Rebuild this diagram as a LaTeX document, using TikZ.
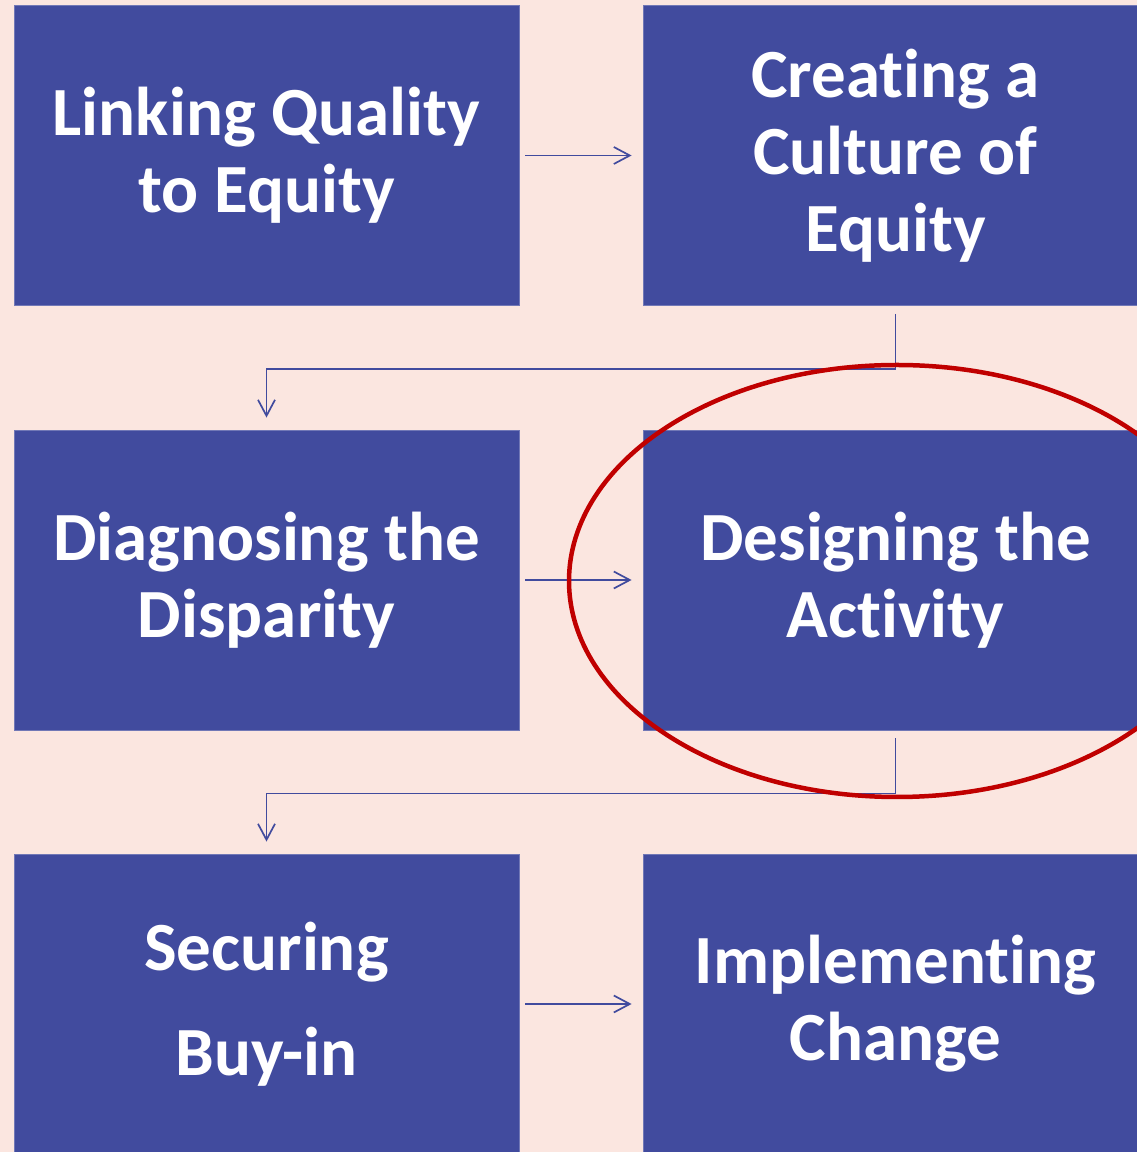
\documentclass[tikz,border=0pt]{standalone}
\usepackage{fontspec}
\setmainfont{Carlito}[Ligatures=NoCommon]
\usepackage{xcolor}
\usetikzlibrary{arrows.meta,positioning}
\definecolor{paper}{HTML}{FBE6E0}
\definecolor{boxblue}{HTML}{414B9E}
\definecolor{ringred}{HTML}{C00000}

\tikzset{
  stage/.style={fill=boxblue,draw=boxblue!75!white,line width=0.8pt,text=white,
    minimum width=505pt,minimum height=300pt,inner sep=0pt,align=center,
    font=\fontsize{69}{77}\selectfont\bfseries},
  flow/.style={boxblue,line width=1.7pt,-{Straight Barb[length=16pt,width=17pt]}},
  ring/.style={ringred,line width=4.5pt}
}

\begin{document}
\begin{tikzpicture}[x=1pt,y=1pt]
  \useasboundingbox (0,0) rectangle (1137,1152);
  \clip (0,0) rectangle (1137,1152);
  \fill[paper] (0,0) rectangle (1137,1152);

  % two columns of stages, three rows
  \node[stage] (link)    at (266.5,996.5) {Linking Quality\\to Equity};
  \node[stage] (culture) at (895.5,996.5) {Creating a\\Culture of\\Equity};
  \node[stage] (diag)    at (266.5,572)   {Diagnosing the\\Disparity};
  \node[stage] (design)  at (895.5,572)   {Designing the\\Activity};
  \node[stage] (buyin)   at (266.5,148)   {Securing\\[28pt]Buy-in};
  \node[stage] (change)  at (895.5,148)   {Implementing\\Change};

  % arrows along each row
  \draw[flow,shorten <=6pt,shorten >=11pt] (link) -- (culture);
  \draw[flow,shorten <=6pt,shorten >=11pt] (diag) -- (design);
  \draw[flow,shorten <=6pt,shorten >=11pt] (buyin) -- (change);

  % elbows down to the next row
  \draw[flow,shorten <=8pt,shorten >=12pt] (culture.south) -- ++(0,-63) -| (diag.north);
  \draw[flow,shorten <=8pt,shorten >=12pt] (design.south) -- ++(0,-63) -| (buyin.north);

  % highlight round the current stage
  \draw[ring] (897,571) ellipse [x radius=328,y radius=216];
\end{tikzpicture}
\end{document}
